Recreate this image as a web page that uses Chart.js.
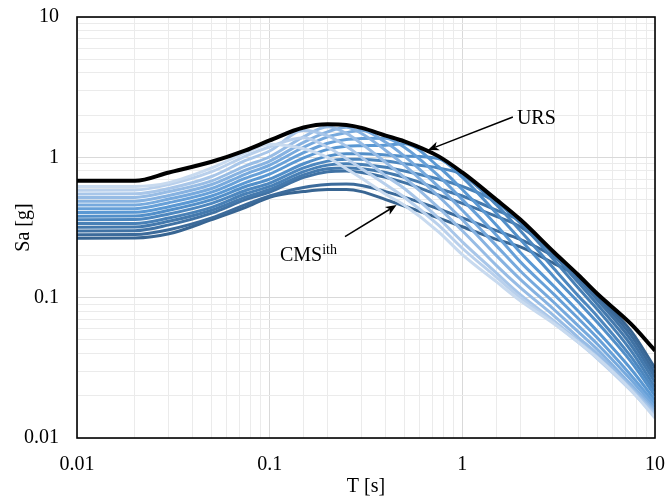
<!DOCTYPE html>
<html>
<head>
<meta charset="utf-8">
<script src="https://cdn.jsdelivr.net/npm/chart.js@4.4.0/dist/chart.umd.min.js"></script>
<style>
  html, body { margin: 0; padding: 0; background: #fff; }
  #wrap { width: 667px; height: 497px; }
</style>
</head>
<body>
<div id="wrap"><canvas id="spectra" width="667" height="497"></canvas></div>
<script>
// spectral periods T [s]
const periods = [0.01, 0.02, 0.03, 0.05, 0.075, 0.1, 0.15, 0.2, 0.25, 0.3, 0.4, 0.5, 0.75, 1, 1.5, 2, 3, 4, 5, 7.5, 10];

// uniform risk spectrum
const ursValues = [0.68, 0.68, 0.78, 0.93, 1.12, 1.32, 1.63, 1.72, 1.70, 1.62, 1.43, 1.30, 1.02, 0.78, 0.50, 0.36, 0.21, 0.145, 0.107, 0.065, 0.042];

// conditional mean spectra, short conditioning period first
const cmsValues = [
  [0.62, 0.62, 0.66, 0.84, 1.08, 1.24, 1.15, 1.00, 0.83, 0.71, 0.545, 0.455, 0.296, 0.203, 0.13, 0.095, 0.065, 0.048, 0.0375, 0.022, 0.0139],
  [0.583, 0.585, 0.64, 0.79, 1.02, 1.19, 1.38, 1.18, 0.98, 0.83, 0.64, 0.52, 0.33, 0.225, 0.14, 0.10, 0.066, 0.048, 0.037, 0.0218, 0.0142],
  [0.549, 0.55, 0.60, 0.73, 0.95, 1.11, 1.55, 1.42, 1.20, 1.00, 0.74, 0.60, 0.37, 0.25, 0.15, 0.105, 0.068, 0.049, 0.038, 0.0224, 0.0147],
  [0.517, 0.518, 0.57, 0.68, 0.87, 1.01, 1.40, 1.65, 1.48, 1.25, 0.92, 0.72, 0.44, 0.30, 0.17, 0.118, 0.074, 0.052, 0.040, 0.0232, 0.0152],
  [0.486, 0.487, 0.535, 0.64, 0.81, 0.94, 1.28, 1.52, 1.64, 1.48, 1.12, 0.88, 0.53, 0.36, 0.20, 0.135, 0.082, 0.057, 0.043, 0.024, 0.0158],
  [0.457, 0.458, 0.505, 0.60, 0.76, 0.88, 1.18, 1.40, 1.50, 1.56, 1.28, 1.02, 0.62, 0.42, 0.235, 0.155, 0.092, 0.063, 0.047, 0.026, 0.0166],
  [0.430, 0.431, 0.475, 0.565, 0.71, 0.82, 1.08, 1.26, 1.34, 1.36, 1.37, 1.18, 0.74, 0.50, 0.28, 0.18, 0.105, 0.071, 0.052, 0.028, 0.0175],
  [0.405, 0.406, 0.445, 0.53, 0.66, 0.76, 0.99, 1.14, 1.20, 1.21, 1.22, 1.25, 0.86, 0.59, 0.33, 0.21, 0.12, 0.080, 0.058, 0.031, 0.0186],
  [0.381, 0.382, 0.42, 0.50, 0.62, 0.70, 0.90, 1.02, 1.06, 1.06, 1.04, 1.02, 0.98, 0.72, 0.40, 0.26, 0.14, 0.093, 0.067, 0.035, 0.020],
  [0.359, 0.36, 0.395, 0.47, 0.58, 0.655, 0.84, 0.94, 0.97, 0.97, 0.94, 0.90, 0.84, 0.75, 0.46, 0.30, 0.16, 0.103, 0.074, 0.038, 0.0215],
  [0.337, 0.338, 0.37, 0.44, 0.55, 0.62, 0.79, 0.88, 0.90, 0.89, 0.85, 0.80, 0.70, 0.62, 0.48, 0.34, 0.185, 0.117, 0.083, 0.042, 0.023],
  [0.318, 0.319, 0.35, 0.42, 0.52, 0.59, 0.75, 0.83, 0.84, 0.83, 0.78, 0.72, 0.60, 0.53, 0.42, 0.35, 0.20, 0.128, 0.090, 0.046, 0.025],
  [0.299, 0.30, 0.33, 0.40, 0.50, 0.565, 0.72, 0.79, 0.80, 0.78, 0.72, 0.66, 0.54, 0.47, 0.38, 0.32, 0.205, 0.136, 0.097, 0.050, 0.027],
  [0.281, 0.282, 0.305, 0.37, 0.46, 0.53, 0.61, 0.64, 0.645, 0.63, 0.57, 0.52, 0.43, 0.37, 0.30, 0.26, 0.195, 0.14, 0.101, 0.054, 0.029],
  [0.265, 0.266, 0.285, 0.36, 0.44, 0.52, 0.57, 0.59, 0.59, 0.57, 0.50, 0.45, 0.37, 0.32, 0.26, 0.23, 0.175, 0.140, 0.104, 0.058, 0.0315]
];

const cmsColors = ['#c8daef', '#b9d0ec', '#a8c6e9', '#97bce5', '#86b2e1', '#76a9dd', '#67a0d8', '#5a98d3',
                   '#528fc9', '#4d87bf', '#4880b6', '#4479ad', '#4072a4', '#3c6b9b', '#386592'];

// where the callouts sit, in data units (T, Sa)
const ursNote = { text: 'URS', at: [1.92, 1.875], from: [1.83, 1.94], to: [0.663, 1.127] };
const cmsNote = { text: 'CMS', sup: 'ith', at: [0.113, 0.198], from: [0.246, 0.272], to: [0.456, 0.457] };

const serif = "'Liberation Serif', 'Times New Roman', serif";

const isDecade = v => Math.abs(Math.log10(v) - Math.round(Math.log10(v))) < 1e-6;

const toPoints = vals => vals.map((v, i) => ({ x: periods[i], y: v }));

const datasets = [{
  label: 'URS',
  data: toPoints(ursValues),
  borderColor: '#000',
  borderWidth: 4
}].concat(cmsValues.map((row, i) => ({
  label: 'CMS ' + (i + 1),
  data: toPoints(row),
  borderColor: cmsColors[i],
  borderWidth: 3
})));

const frameAndNotes = {
  id: 'frameAndNotes',
  afterDraw(chart) {
    const { ctx, chartArea: a, scales: { x, y } } = chart;
    ctx.save();
    ctx.strokeStyle = '#000';
    ctx.lineWidth = 1.6;
    ctx.strokeRect(a.left, a.top, a.right - a.left, a.bottom - a.top);

    const px = p => [x.getPixelForValue(p[0]), y.getPixelForValue(p[1])];
    const arrow = (from, to) => {
      const [x0, y0] = px(from), [x1, y1] = px(to);
      const ang = Math.atan2(y1 - y0, x1 - x0);
      const len = 11, half = 4.5;
      const bx = x1 - len * Math.cos(ang), by = y1 - len * Math.sin(ang);
      ctx.strokeStyle = '#000';
      ctx.lineWidth = 1.5;
      ctx.beginPath();
      ctx.moveTo(x0, y0);
      ctx.lineTo(bx + 3 * Math.cos(ang), by + 3 * Math.sin(ang));
      ctx.stroke();
      ctx.fillStyle = '#000';
      ctx.beginPath();
      ctx.moveTo(x1, y1);
      ctx.lineTo(bx - half * Math.sin(ang), by + half * Math.cos(ang));
      ctx.lineTo(bx + 3 * Math.cos(ang), by + 3 * Math.sin(ang));
      ctx.lineTo(bx + half * Math.sin(ang), by - half * Math.cos(ang));
      ctx.closePath();
      ctx.fill();
    };
    arrow(ursNote.from, ursNote.to);
    arrow(cmsNote.from, cmsNote.to);

    ctx.fillStyle = '#000';
    ctx.textAlign = 'left';
    ctx.textBaseline = 'middle';
    ctx.font = '20px ' + serif;
    let [tx, ty] = px(ursNote.at);
    ctx.fillText(ursNote.text, tx, ty);

    [tx, ty] = px(cmsNote.at);
    ctx.fillText(cmsNote.text, tx, ty);
    const w = ctx.measureText(cmsNote.text).width;
    ctx.font = '14px ' + serif;
    ctx.fillText(cmsNote.sup, tx + w, ty - 6);
    ctx.restore();
  }
};

const axisFont = { family: serif, size: 20 };

const logAxis = title => ({
  type: 'logarithmic',
  min: 0.01,
  max: 10,
  border: { display: false },
  grid: {
    drawTicks: false,
    lineWidth: 1,
    color: c => (c.tick && isDecade(c.tick.value)) ? '#d9d9d9' : '#ebebeb'
  },
  ticks: {
    autoSkip: false,
    maxRotation: 0,
    color: '#000',
    font: axisFont,
    callback: v => isDecade(v) ? String(v) : ''
  },
  title: { display: true, text: title, color: '#000', font: { family: serif, size: 20, lineHeight: 1 } }
});

const xAxis = logAxis('T [s]');
xAxis.ticks.padding = 15;
xAxis.title.padding = { top: 0, bottom: 0 };
xAxis.afterFit = s => { s.height = 59; s.paddingLeft = 0; s.paddingRight = 0; };

const yAxis = logAxis('Sa [g]');
yAxis.ticks.padding = 18;
yAxis.title.padding = { top: 14, bottom: 0 };
yAxis.afterFit = s => { s.width = 77; s.paddingTop = 0; s.paddingBottom = 0; };

new Chart(document.getElementById('spectra'), {
  type: 'line',
  data: { datasets },
  options: {
    responsive: false,
    animation: false,
    devicePixelRatio: 1,
    layout: { padding: { left: 0, right: 12, top: 17, bottom: 0 } },
    elements: {
      point: { radius: 0 },
      line: { cubicInterpolationMode: 'monotone', fill: false }
    },
    plugins: { legend: { display: false }, tooltip: { enabled: false } },
    scales: { x: xAxis, y: yAxis }
  },
  plugins: [frameAndNotes]
});
</script>
</body>
</html>
